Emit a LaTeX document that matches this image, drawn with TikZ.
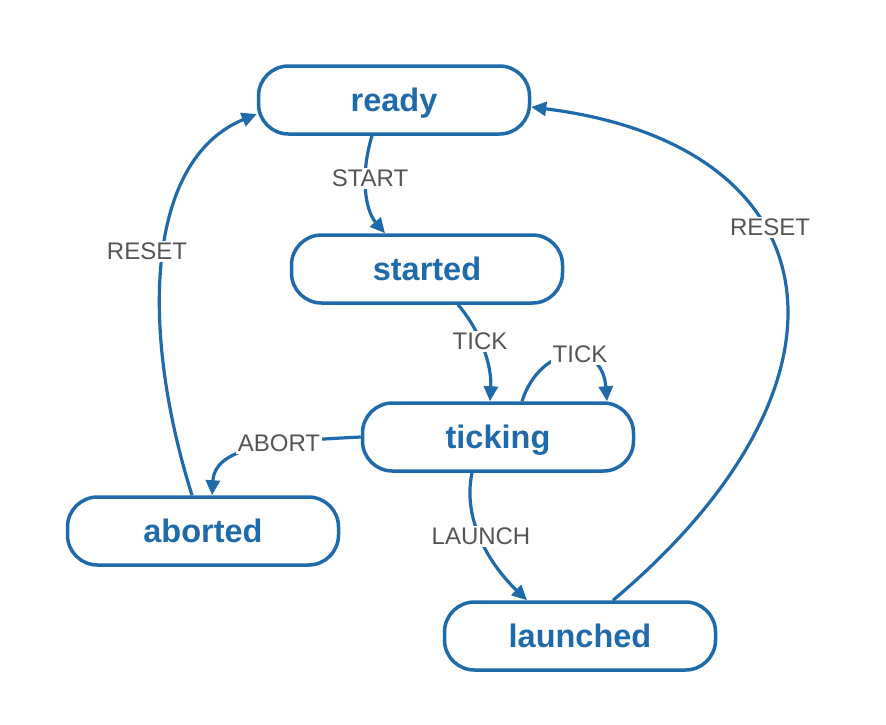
\documentclass[tikz,border=0pt]{standalone}
\usepackage{fontspec}
\setmainfont{Liberation Sans}
\usetikzlibrary{arrows.meta}
\definecolor{sblue}{RGB}{31,106,170}
\definecolor{lblgray}{RGB}{85,85,85}
\begin{document}
\begin{tikzpicture}[x=1pt,y=-1pt,
 state/.style={draw=sblue, line width=3.5pt, rounded corners=30pt, minimum width=271pt, minimum height=68pt, text=sblue, font=\fontsize{32.5}{32.5}\selectfont\bfseries, inner sep=0pt, text height=23pt, text depth=0pt},
 trans/.style={draw=sblue, line width=3.2pt, -{Triangle[length=15pt,width=14pt]}},
 lbl/.style={fill=white, text=lblgray, font=\fontsize{24}{24}\selectfont, inner sep=2pt}]
\useasboundingbox (0,0) rectangle (886,724);
\node[state] (ready) at (394,100) {ready};
\node[state] (started) at (427,269) {started};
\node[state] (ticking) at (498,437) {ticking};
\node[state] (aborted) at (203,531) {aborted};
\node[state] (launched) at (580,636) {launched};

\draw[trans] ([xshift=-22pt]ready.south) .. controls (360,175) and (365,210) .. ([xshift=-42pt]started.north);
\draw[trans] ([xshift=31pt]started.south) .. controls (480,330) and (492,365) .. ([xshift=-8pt]ticking.north);
\draw[trans] ([xshift=24pt]ticking.north) .. controls (540,345) and (602,338) .. ([xshift=109pt]ticking.north);
\draw[trans] (ticking.west) .. controls (280,441) and (215,445) .. ([xshift=9pt]aborted.north);
\draw[trans] ([xshift=-26pt]ticking.south) .. controls (462,520) and (490,565) .. ([xshift=-53pt]launched.north);
\draw[trans] ([xshift=-11pt]aborted.north) .. controls (140,330) and (145,160) .. ([yshift=-14pt]ready.west);
\draw[trans] ([xshift=33pt]launched.north) .. controls (875,380) and (835,145) .. ([yshift=-7pt]ready.east);

\node[lbl] (lstart) at (370,178) {START};
\node[lbl] (ltick1) at (480,341) {TICK};
\node[lbl] (ltick2) at (580,354) {TICK};
\node[lbl] (labort) at (279,443) {ABORT};
\node[lbl] (llaunch) at (481,536) {LAUNCH};
\node[lbl] (lreset1) at (147,251) {RESET};
\node[lbl] (lreset2) at (770,227) {RESET};
\end{tikzpicture}
\end{document}
